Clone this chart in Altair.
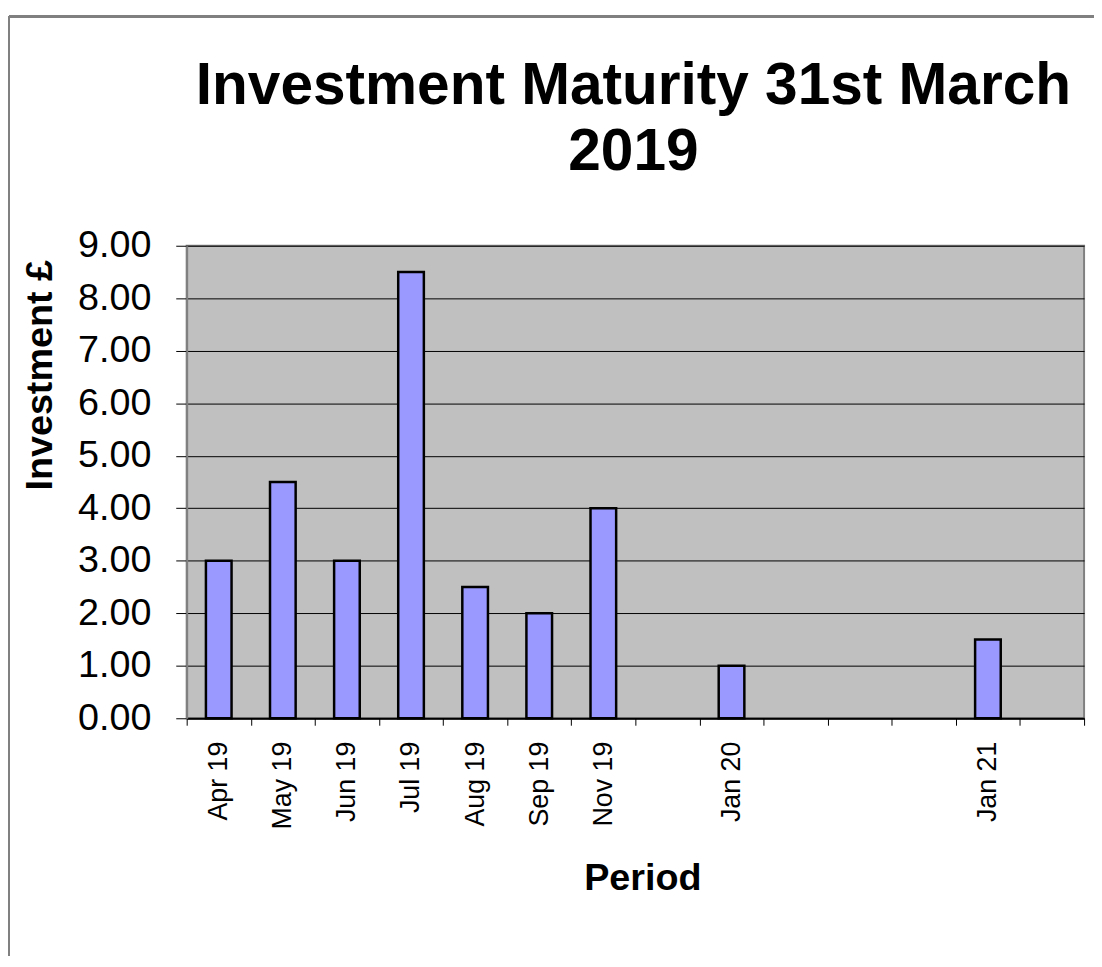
import altair as alt
import pandas as pd

# Category slots on the x axis (gaps are empty slots in the original chart)
categories = ["Apr 19", "May 19", "Jun 19", "Jul 19", "Aug 19", "Sep 19", "Nov 19",
              "_gap1", "Jan 20", "_gap2", "_gap3", "_gap4", "Jan 21", "_gap5"]
periods = ["Apr 19", "May 19", "Jun 19", "Jul 19", "Aug 19", "Sep 19", "Nov 19", "Jan 20", "Jan 21"]
investment = [3.0, 4.5, 3.0, 8.5, 2.5, 2.0, 4.0, 1.0, 1.5]
y_ticks = [0, 1, 2, 3, 4, 5, 6, 7, 8, 9]

df = pd.DataFrame({"Period": periods, "Investment": investment})

FONT = "Arial, Liberation Sans"
W, H = 904, 476

bars = alt.Chart(df).mark_bar(
    width=alt.RelativeBandSize(0.4), color="#9999FF", stroke="black", strokeWidth=2.5
).encode(
    x=alt.X("Period:N", sort=categories,
            scale=alt.Scale(domain=categories, paddingInner=0, paddingOuter=0),
            axis=alt.Axis(title="Period", tickBand="extent", tickSize=7, tickColor="black",
                          tickWidth=1, labelAngle=270, labelAlign="right", labelBaseline="middle",
                          labelPadding=16, labelFontSize=27, labelFont=FONT, labelColor="black",
                          labelExpr="indexof(datum.label, '_gap') == 0 ? '' : datum.label",
                          domainColor="black", domainWidth=2, grid=False,
                          titleFont=FONT, titleFontSize=38, titleFontWeight="bold", titleColor="black",
                          titleX=459, titleY=172, titleAlign="center", titleBaseline="alphabetic")),
    y=alt.Y("Investment:Q", scale=alt.Scale(domain=[0, 9], nice=False),
            axis=alt.Axis(title="Investment £", values=y_ticks, format=".2f",
                          tickSize=11, tickColor="black", tickWidth=1, labelPadding=25,
                          labelFontSize=38, labelFont=FONT, labelColor="black",
                          domainColor="#808080", domainWidth=2,
                          grid=True, gridColor="black", gridWidth=1, gridOpacity=1,
                          titleFont=FONT, titleFontSize=38, titleFontWeight="bold", titleColor="black",
                          titleAngle=270, titleX=-147, titleY=130, titleAlign="center",
                          titleBaseline="middle")),
)

frame_top = alt.Chart(df).mark_rule(color="#808080", strokeWidth=2).encode(
    x=alt.value(-179), x2=alt.value(914), y=alt.value(-231)
)
frame_left = alt.Chart(df).mark_rule(color="#808080", strokeWidth=2).encode(
    x=alt.value(-179), y=alt.value(-231), y2=alt.value(715)
)

chart = alt.layer(frame_top, frame_left, bars).properties(
    width=W, height=H,
    autosize=alt.AutoSizeParams(type="none"),
    padding={"left": 180, "top": 236, "right": 10, "bottom": 239},
    background="white",
    title=alt.TitleParams(text=["Investment Maturity 31st March", "2019"], fontSize=59,
                          font=FONT, fontWeight="bold", color="black", anchor="middle",
                          frame="group", dx=-2, offset=-215, baseline="alphabetic",
                          lineHeight=67),
).configure_view(
    fill="#C0C0C0", stroke="#808080", strokeWidth=2
)

chart.save("out.html", embed_options={"renderer": "svg", "actions": False})
